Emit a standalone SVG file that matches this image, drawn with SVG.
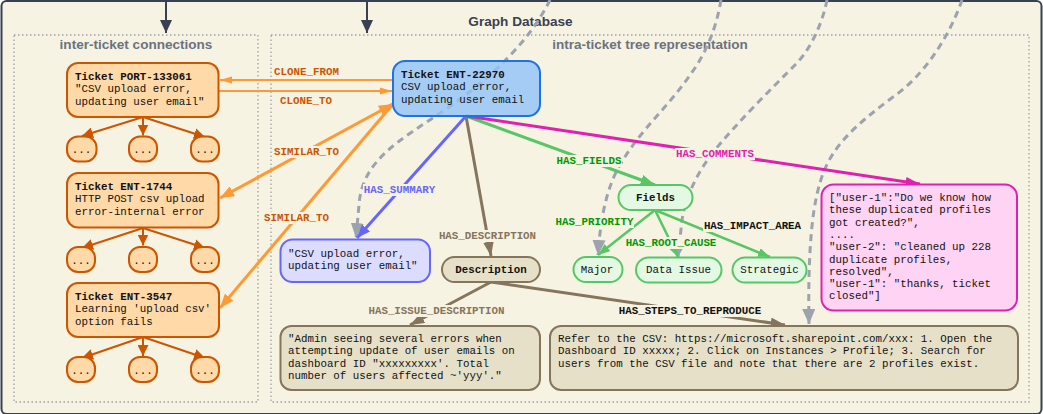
<svg xmlns="http://www.w3.org/2000/svg" width="1043" height="414" viewBox="0 0 1043 414">
<style>
text{font-family:"Liberation Mono",monospace;font-size:10.8px;fill:#111}
.b{font-weight:700}
.h{font-family:"Liberation Sans",Arial,sans-serif;font-weight:700;text-anchor:middle}
.sg{fill:#6b7280;font-size:13.55px}
.m{text-anchor:middle}
.l{font-weight:700;text-anchor:middle}
.o{fill:#ffd9a8;stroke:#cc5500;stroke-width:2}
.bl{fill:#90c2f8;fill-opacity:.8;stroke:#1a73e8;stroke-width:2}
.pu{fill:#dcdcff;stroke:#6666ff;stroke-width:2}
.ta{fill:#e6e0c8;stroke:#85755c;stroke-width:2}
.gr{fill:#e3f9e3;stroke:#57c766;stroke-width:2}
.pk{fill:#ffd3f3;stroke:#e020b0;stroke-width:2}
.e{fill:none}
.lb{fill:#f7f3e3}
.dash{stroke:#9ca3af;stroke-width:3;stroke-dasharray:7 5;fill:none}
</style>
<defs>
<marker id="ad" viewBox="0 0 10 10" refX="10" refY="5" markerWidth="6.5" markerHeight="6" orient="auto" preserveAspectRatio="none"><path d="M0,0L10,5L0,10z" fill="#374151"/></marker>
<marker id="ao" viewBox="0 0 10 10" refX="10" refY="5" markerWidth="6" markerHeight="3.6" orient="auto" preserveAspectRatio="none"><path d="M0,0L10,5L0,10z" fill="#ff9933"/></marker>
<marker id="aO" viewBox="0 0 10 10" refX="10" refY="5" markerWidth="4.7" markerHeight="3.7" orient="auto" preserveAspectRatio="none"><path d="M0,0L10,5L0,10z" fill="#ff9933"/></marker>
<marker id="ar" viewBox="0 0 10 10" refX="10" refY="5" markerWidth="5.5" markerHeight="5.5" orient="auto"><path d="M0,0L10,5L0,10z" fill="#cc5500"/></marker>
<marker id="ap" viewBox="0 0 10 10" refX="10" refY="5" markerWidth="4.5" markerHeight="3.6" orient="auto" preserveAspectRatio="none"><path d="M0,0L10,5L0,10z" fill="#6666ff"/></marker>
<marker id="at" viewBox="0 0 10 10" refX="10" refY="5" markerWidth="4.8" markerHeight="3.6" orient="auto" preserveAspectRatio="none"><path d="M0,0L10,5L0,10z" fill="#85755c"/></marker>
<marker id="ag" viewBox="0 0 10 10" refX="10" refY="5" markerWidth="4.8" markerHeight="3.6" orient="auto" preserveAspectRatio="none"><path d="M0,0L10,5L0,10z" fill="#57c766"/></marker>
<marker id="ak" viewBox="0 0 10 10" refX="10" refY="5" markerWidth="4.8" markerHeight="3.2" orient="auto" preserveAspectRatio="none"><path d="M0,0L10,5L0,10z" fill="#e020b0"/></marker>
<marker id="ay" viewBox="0 0 10 10" refX="10" refY="5" markerWidth="5" markerHeight="4.4" orient="auto" preserveAspectRatio="none"><path d="M0,0L10,5L0,10z" fill="#9ca3af"/></marker>
</defs>

<g id="graph-database">
<rect x="1.500" y="1" width="1040" height="413" rx="5" fill="#f7f3e3" stroke="#374151" stroke-width="2"/>
<text class="h" x="520.500" y="26" style="font-size:13.600px;fill:#374151">Graph Database</text>
</g>
<g id="inter-ticket">
<rect x="14" y="35" width="244" height="367" fill="none" stroke="#9ca3af" stroke-width="1.300" stroke-dasharray="1.500 2.500"/>
<text class="h sg" x="136" y="49">inter-ticket connections</text>
</g>
<g id="intra-ticket">
<rect x="271" y="35" width="758" height="367" fill="none" stroke="#9ca3af" stroke-width="1.300" stroke-dasharray="1.500 2.500"/>
<text class="h sg" x="650" y="49">intra-ticket tree representation</text>
</g>

<g id="connectors">
<path d="M166,0V33" stroke="#374151" stroke-width="2" class="e" marker-end="url(#ad)"/>
<path d="M367,0V33" stroke="#374151" stroke-width="2" class="e" marker-end="url(#ad)"/>

<path class="dash" marker-end="url(#ay)" d="M550,0C530,40 495,75 445,110C400,140 362,160 359,205L356,238"/>
<path class="dash" marker-end="url(#ay)" d="M721,0C716,30 705,55 690,75C670,105 640,130 620,165C605,190 600,225 598,255"/>
<path class="dash" marker-end="url(#ay)" d="M827,0C822,25 810,50 795,65C770,90 735,125 715,150C695,175 685,200 682,220L678,257"/>
<path class="dash" marker-end="url(#ay)" d="M962,0C950,35 925,75 893,97C860,122 830,145 820,183C810,215 808,270 809,324"/>

<g stroke="#ff9933" class="e">
<path d="M392,80H220" stroke-width="2" marker-end="url(#ao)"/>
<path d="M219,91H392" stroke-width="2" marker-end="url(#ao)"/>
<path d="M393,104L220,198" stroke-width="3" marker-end="url(#aO)"/>
<path d="M393,104L220,308" stroke-width="3" marker-end="url(#aO)"/>
<path d="M380,111L393,104" stroke-width="3" marker-end="url(#aO)"/>
</g>
<g stroke="#cc5500" stroke-width="2" class="e">
<path d="M143,117L82,136" marker-end="url(#ar)"/><path d="M143,117V135.500" marker-end="url(#ar)"/><path d="M143,117L205,137" marker-end="url(#ar)"/>
<path d="M143,228L82,248" marker-end="url(#ar)"/><path d="M143,228V245.500" marker-end="url(#ar)"/><path d="M143,228L205,248" marker-end="url(#ar)"/>
<path d="M143,337L82,358" marker-end="url(#ar)"/><path d="M143,337V356" marker-end="url(#ar)"/><path d="M143,337L205,358" marker-end="url(#ar)"/>
</g>
<path d="M466,116L357,238" stroke="#6666ff" stroke-width="3" class="e" marker-end="url(#ap)"/>
<g stroke="#85755c" stroke-width="3" class="e">
<path d="M466,116L491,256" marker-end="url(#at)"/>
<path d="M491,282L410,325" marker-end="url(#at)"/>
<path d="M491,282L785,325" marker-end="url(#at)"/>
</g>
<g stroke="#57c766" class="e">
<path d="M466,116L655,185" stroke-width="3" marker-end="url(#ag)"/>
<path d="M655,210L598,255" stroke-width="2.500" marker-end="url(#ag)"/>
<path d="M655,210L678,257" stroke-width="2.500" marker-end="url(#ag)"/>
<path d="M655,210L770,257" stroke-width="2.500" marker-end="url(#ag)"/>
</g>
<path d="M466,116L920,184" stroke="#e020b0" stroke-width="3" class="e" marker-end="url(#ak)"/>

<g id="edge-labels">
<rect class="lb" x="273" y="66" width="67" height="12"/><text class="l" x="306.500" y="75" style="fill:#cc5500">CLONE_FROM</text>
<rect class="lb" x="279" y="95" width="54" height="12"/><text class="l" x="306" y="103.500" style="fill:#cc5500">CLONE_TO</text>
<rect class="lb" x="273" y="146" width="67" height="12"/><text class="l" x="306.500" y="155" style="fill:#cc5500">SIMILAR_TO</text>
<rect class="lb" x="263" y="212" width="67" height="12"/><text class="l" x="296.500" y="221" style="fill:#cc5500">SIMILAR_TO</text>
<rect class="lb" x="363" y="184" width="73" height="12"/><text class="l" x="399.500" y="193" style="fill:#6666ff">HAS_SUMMARY</text>
<rect class="lb" x="556" y="155" width="66" height="12"/><text class="l" x="589" y="164" style="fill:#009900">HAS_FIELDS</text>
<rect class="lb" x="675" y="148" width="80" height="12"/><text class="l" x="715" y="157" style="fill:#e020b0">HAS_COMMENTS</text>
<rect class="lb" x="438" y="230" width="99" height="12"/><text class="l" x="487.500" y="239" style="fill:#85755c">HAS_DESCRIPTION</text>
<rect class="lb" x="367" y="305" width="139" height="12"/><text class="l" x="436.500" y="314" style="fill:#85755c">HAS_ISSUE_DESCRIPTION</text>
<rect class="lb" x="617" y="305" width="146" height="12"/><text class="l" x="690" y="314">HAS_STEPS_TO_REPRODUCE</text>
<rect class="lb" x="555" y="216" width="79" height="12"/><text class="l" x="594.500" y="225" style="fill:#009900">HAS_PRIORITY</text>
<rect class="lb" x="625" y="237" width="92" height="12"/><text class="l" x="671" y="246" style="fill:#009900">HAS_ROOT_CAUSE</text>
<rect class="lb" x="703" y="220" width="99" height="12"/><text class="l" x="752.500" y="229">HAS_IMPACT_AREA</text>
</g>
</g>

<g id="ticket-port-133061"><rect class="o" x="67" y="63" width="151.500" height="54" rx="11"/><text x="75" y="80"><tspan class="b">Ticket PORT-133061</tspan><tspan x="75" dy="12.300">"CSV upload error,</tspan><tspan x="75" dy="12.300">updating user email"</tspan></text></g>
<g id="port-child-1"><rect class="o" x="67" y="136.500" width="29.500" height="25" rx="11"/><text class="m" x="81.500" y="153">...</text></g>
<g id="port-child-2"><rect class="o" x="129" y="136.500" width="28" height="25" rx="11"/><text class="m" x="143" y="153">...</text></g>
<g id="port-child-3"><rect class="o" x="191" y="136.500" width="28" height="25" rx="11"/><text class="m" x="205" y="153">...</text></g>
<g id="ticket-ent-1744"><rect class="o" x="67" y="173" width="151.500" height="54.500" rx="11"/><text x="75" y="190"><tspan class="b">Ticket ENT-1744</tspan><tspan x="75" dy="12.300">HTTP POST csv upload</tspan><tspan x="75" dy="12.300">error-internal error</tspan></text></g>
<g id="ent-1744-child-1"><rect class="o" x="67" y="247" width="28" height="25" rx="11"/><text class="m" x="81" y="264">...</text></g>
<g id="ent-1744-child-2"><rect class="o" x="129" y="247" width="28" height="25" rx="11"/><text class="m" x="143" y="264">...</text></g>
<g id="ent-1744-child-3"><rect class="o" x="191" y="247" width="28" height="25" rx="11"/><text class="m" x="205" y="264">...</text></g>
<g id="ticket-ent-3547"><rect class="o" x="67" y="283" width="152" height="54" rx="11"/><text x="75" y="300"><tspan class="b">Ticket ENT-3547</tspan><tspan x="75" dy="12.300">Learning 'upload csv'</tspan><tspan x="75" dy="12.300">option fails</tspan></text></g>
<g id="ent-3547-child-1"><rect class="o" x="67" y="357" width="28" height="25" rx="11"/><text class="m" x="81" y="374">...</text></g>
<g id="ent-3547-child-2"><rect class="o" x="129" y="357" width="28" height="25" rx="11"/><text class="m" x="143" y="374">...</text></g>
<g id="ent-3547-child-3"><rect class="o" x="191" y="357" width="28" height="25" rx="11"/><text class="m" x="205" y="374">...</text></g>

<g id="ticket-ent-22970"><rect class="bl" x="393" y="61" width="147" height="55" rx="12"/><text x="401" y="78"><tspan class="b">Ticket ENT-22970</tspan><tspan x="401" dy="12.300">CSV upload error,</tspan><tspan x="401" dy="12.300">updating user email</tspan></text></g>
<g id="summary"><rect class="pu" x="280.500" y="239.500" width="149.500" height="42.500" rx="12"/><text x="288" y="256.500">"CSV upload error,<tspan x="288" dy="12.300">updating user email"</tspan></text></g>
<g id="description"><rect class="ta" x="442" y="257" width="98" height="25" rx="12.500"/><text class="l" x="491" y="273">Description</text></g>
<g id="issue-description"><rect class="ta" x="280.500" y="326" width="259.500" height="64" rx="11"/><text x="288" y="342">"Admin seeing several errors when<tspan x="288" dy="12.300">attempting update of user emails on</tspan><tspan x="288" dy="12.300">dashboard ID "xxxxxxxxx'. Total</tspan><tspan x="288" dy="12.300">number of users affected ~'yyy'."</tspan></text></g>
<g id="steps"><rect class="ta" x="550" y="326" width="468" height="64" rx="11"/><text x="558" y="342">Refer to the CSV: https://microsoft.sharepoint.com/xxx: 1. Open the<tspan x="558" dy="12.300">Dashboard ID xxxxx; 2. Click on Instances &gt; Profile; 3. Search for</tspan><tspan x="558" dy="12.300">users from the CSV file and note that there are 2 profiles exist.</tspan></text></g>
<g id="fields"><rect class="gr" x="618.500" y="185" width="74" height="25" rx="12.500"/><text class="l" x="655.500" y="201">Fields</text></g>
<g id="major"><rect class="gr" x="573.500" y="257" width="49" height="25" rx="12.500"/><text class="m" x="597" y="273">Major</text></g>
<g id="data-issue"><rect class="gr" x="636" y="257.500" width="85.500" height="25" rx="12.500"/><text class="m" x="678.500" y="273">Data Issue</text></g>
<g id="strategic"><rect class="gr" x="732.500" y="257.500" width="74" height="25" rx="12.500"/><text class="m" x="769.500" y="273">Strategic</text></g>
<g id="comments"><rect class="pk" x="821.500" y="184.500" width="195.500" height="126" rx="12"/><text x="829" y="201">["user-1":"Do we know how<tspan x="829" dy="12.300">these duplicated profiles</tspan><tspan x="829" dy="12.300">got created?",</tspan><tspan x="829" dy="12.300">....</tspan><tspan x="829" dy="12.300">"user-2": "cleaned up 228</tspan><tspan x="829" dy="12.300">duplicate profiles,</tspan><tspan x="829" dy="12.300">resolved",</tspan><tspan x="829" dy="12.300">"user-1": "thanks, ticket</tspan><tspan x="829" dy="12.300">closed"]</tspan></text></g>
</svg>
